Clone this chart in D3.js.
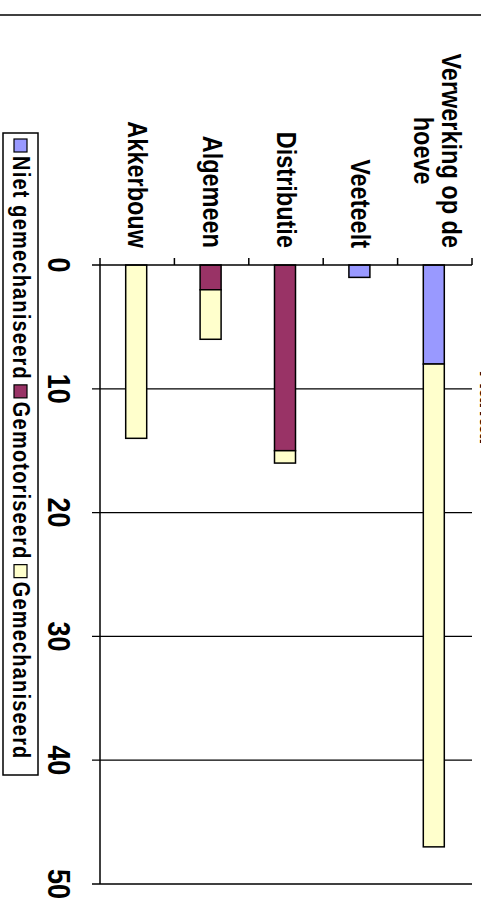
<!DOCTYPE html>
<html><head><meta charset="utf-8">
<script src="https://cdn.jsdelivr.net/npm/d3@7"></script>
<style>
html,body{margin:0;padding:0;background:#fff;}
svg{display:block;}
text{font-family:"Liberation Sans",Arial,sans-serif;font-weight:bold;fill:#000;}
</style></head>
<body>
<script>
const categories = ["Akkerbouw", "Algemeen", "Distributie", "Veeteelt", "Verwerking op de hoeve"];
const categoryLines = [["Akkerbouw"], ["Algemeen"], ["Distributie"], ["Veeteelt"], ["Verwerking op de", "hoeve"]];
const seriesNames = ["Niet gemechaniseerd", "Gemotoriseerd", "Gemechaniseerd"];
const nietGemechaniseerd = [0, 0, 0, 1, 8];
const gemotoriseerd = [0, 2, 15, 0, 0];
const gemechaniseerd = [14, 4, 1, 0, 39];
const valueTicks = [0, 10, 20, 30, 40, 50];
const colors = ["#9999FF", "#993366", "#FFFFCC"];
const title = "Aantal";

const W = 481, H = 918, SX = 1.18;
const svg = d3.select("body").append("svg").attr("width", W).attr("height", H);

const rows = categories.map((c, i) => ({
  cat: c,
  "Niet gemechaniseerd": nietGemechaniseerd[i],
  "Gemotoriseerd": gemotoriseerd[i],
  "Gemechaniseerd": gemechaniseerd[i]
}));
const stacked = d3.stack().keys(seriesNames)(rows);

const y = d3.scaleLinear().domain([0, 50]).range([265, 884]);
const x = d3.scaleBand().domain(categories).range([100, 472]);
const barW = 21;

function rot(px, py) { return `translate(${px},${py}) scale(${SX},1) rotate(90)`; }

// chart area top border
svg.append("line").attr("x1", 0).attr("x2", W).attr("y1", 15).attr("y2", 15)
  .attr("stroke", "#000").attr("stroke-width", 1.5);

// gridlines + value ticks
svg.append("g").selectAll("line").data(valueTicks.slice(1)).join("line")
  .attr("x1", 92).attr("x2", 472).attr("y1", d => y(d)).attr("y2", d => y(d))
  .attr("stroke", "#000").attr("stroke-width", 1.3);

// value axis line (original bottom axis)
svg.append("line").attr("x1", 100).attr("x2", 100).attr("y1", y(0)).attr("y2", y(50))
  .attr("stroke", "#000").attr("stroke-width", 1.5);

// value tick labels
svg.append("g").selectAll("text").data(valueTicks).join("text")
  .attr("transform", d => rot(48, y(d)))
  .attr("text-anchor", "middle").attr("font-size", 27)
  .text(d => d);

// bars
const g = svg.append("g");
stacked.forEach((s, si) => {
  g.append("g").selectAll("rect").data(s.filter(d => d[1] - d[0] > 0)).join("rect")
    .attr("x", d => x(d.data.cat) + x.bandwidth() / 2 - barW / 2 - 1)
    .attr("width", barW)
    .attr("y", d => y(d[0]))
    .attr("height", d => y(d[1]) - y(d[0]))
    .attr("fill", colors[si]).attr("stroke", "#000").attr("stroke-width", 1.5);
});

// category axis line (original left axis) with ticks
svg.append("line").attr("x1", 92).attr("x2", 472).attr("y1", y(0)).attr("y2", y(0))
  .attr("stroke", "#000").attr("stroke-width", 1.5);
const bounds = categories.map(c => x(c)).concat([x.range()[1]]);
svg.append("g").selectAll("line").data(bounds).join("line")
  .attr("x1", d => d).attr("x2", d => d).attr("y1", y(0) - 7).attr("y2", y(0))
  .attr("stroke", "#000").attr("stroke-width", 1.5);

// category labels
const catFont = 23.5;
categoryLines.forEach((lines, i) => {
  const cx = x(categories[i]) + x.bandwidth() / 2;
  const lineGap = 28;
  const n = lines.length;
  const grp = svg.append("g");
  const texts = lines.map((ln, li) => {
    const base = cx - 9 + ((n - 1) / 2 - li) * lineGap + (n > 1 ? 2 : 0);
    return grp.append("text").attr("font-size", catFont).text(ln).attr("data-base", base);
  });
  const lens = texts.map(t => t.node().getComputedTextLength());
  const maxL = d3.max(lens);
  const center = 248 - maxL / 2;
  texts.forEach((t) => {
    t.attr("text-anchor", "middle").attr("transform", rot(+t.attr("data-base"), center));
  });
});

// legend
const leg = svg.append("g");
leg.append("rect").attr("x", 3).attr("y", 133).attr("width", 35).attr("height", 642)
  .attr("fill", "#fff").attr("stroke", "#000").attr("stroke-width", 1.5);
let ly = 139;
seriesNames.forEach((nm, i) => {
  leg.append("rect").attr("x", 14).attr("y", ly).attr("width", 13).attr("height", 13)
    .attr("fill", colors[i]).attr("stroke", "#000").attr("stroke-width", 1.2);
  const t = leg.append("text").attr("font-size", 20).attr("letter-spacing", 1.2)
    .attr("transform", rot(13, ly + 17)).text(nm);
  ly += 17 + t.node().getComputedTextLength() + 5;
});

// title (mostly outside the visible area, as in the reference)
svg.append("text").attr("transform", rot(480, 408)).attr("text-anchor", "middle")
  .attr("font-size", 24).text(title);
</script>
</body></html>
